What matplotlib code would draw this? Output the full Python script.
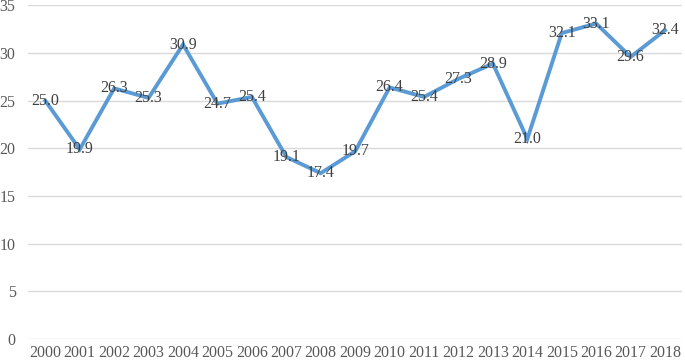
import matplotlib
matplotlib.use("Agg")
import matplotlib.pyplot as plt

years = [str(y) for y in range(2000, 2019)]
values = [25.0, 19.9, 26.3, 25.3, 30.9, 24.7, 25.4, 19.1, 17.4, 19.7,
          26.4, 25.4, 27.3, 28.9, 21.0, 32.1, 33.1, 29.6, 32.4]

plt.rcParams['font.family'] = ['Liberation Serif', 'DejaVu Serif']

fig = plt.figure(figsize=(6.85, 3.63), dpi=100)
ax = fig.add_axes([0.041, 0.066, 0.955, 0.919])

x = list(range(len(years)))
ax.plot(x, values, color='#5B9BD5', linewidth=2.8, solid_joinstyle='miter', zorder=3)
for xi, v in zip(x, values):
    ax.text(xi, v, f"{v:.1f}", ha='center', va='center', fontsize=11.5,
            color='#404040', zorder=4)

ax.set_xlim(-0.5, len(years) - 0.5)
ax.set_ylim(0, 35)
ax.set_yticks(range(0, 36, 5))
ax.set_xticks(x)
ax.set_xticklabels(years)
ax.grid(axis='y', color='#D9D9D9', linewidth=1)
ax.set_axisbelow(True)
for s in ax.spines.values():
    s.set_visible(False)
ax.tick_params(length=0, labelsize=11.5, labelcolor='#595959')
ax.tick_params(axis='y', pad=9)
ax.tick_params(axis='x', pad=4)

fig.savefig('out.png', dpi=100)
